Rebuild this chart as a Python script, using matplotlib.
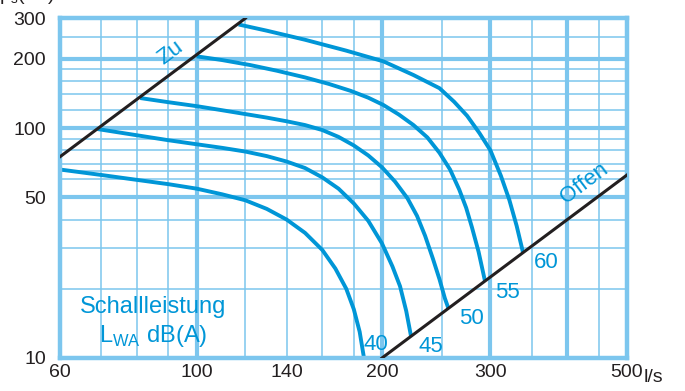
import matplotlib
matplotlib.use("Agg")
import matplotlib.pyplot as plt

plt.rcParams['font.family'] = ['Liberation Sans', 'DejaVu Sans']

# air flow (l/s) and pressure drop (Pa)
q_40 = [60, 70, 80, 90, 100, 110, 120, 130, 140, 150, 160, 168, 175, 180, 184, 187]
dp_40 = [66, 62.5, 59.5, 57, 54.5, 51.5, 48.5, 44.5, 40, 35, 29.5, 24.5, 20, 16.3, 13, 10]
q_45 = [69, 80, 90, 100, 110, 120, 130, 140, 150, 160, 170, 180, 190, 200, 208, 214, 219, 223]
dp_45 = [99, 93, 88.5, 85, 82, 79, 75.5, 71.5, 67, 61, 54.5, 47, 39.5, 31.5, 25, 20.5, 16, 12.4]
q_50 = [81, 90, 100, 110, 120, 130, 140, 150, 160, 170, 180, 190, 200, 210, 220, 228, 235, 242, 248, 253, 256.5]
dp_50 = [135, 129.5, 124.5, 119.5, 115, 111, 107, 103, 98, 91.5, 84, 76, 67.5, 58.5, 49.5, 41.5, 34, 27, 22, 18.2, 16.4]
q_55 = [100, 110, 122, 135, 150, 164, 178, 190, 201, 213, 225, 237, 248, 258, 267, 274, 280, 287, 294]
dp_55 = [205, 197.5, 188, 177.5, 166, 155.5, 145, 135.5, 126, 114.5, 103, 91, 78, 66, 54, 45, 37, 29, 21.6]
q_60 = [117, 130, 150, 175, 201, 225, 248, 262, 275, 288, 300, 312, 322, 331, 339]
dp_60 = [282, 265, 242, 217, 195, 170, 149, 130, 113, 95, 80, 62, 48.7, 37.5, 28.7]
curves = [(q_40, dp_40), (q_45, dp_45), (q_50, dp_50), (q_55, dp_55), (q_60, dp_60)]
levels = ["40", "45", "50", "55", "60"]

zu_q = [60, 120]
zu_dp = [75, 300]
offen_q = [200, 500]
offen_dp = [10, 62.5]

x_ticks = [60, 100, 140, 200, 300, 500]
y_ticks = [10, 50, 100, 200, 300]
x_thick = [100, 200, 300, 400]
x_thin = [70, 80, 90, 120, 140, 160, 180, 250, 350, 450]
y_thick = [50, 100, 200]
y_thin = [20, 30, 40, 60, 65, 70, 80, 90, 120, 140, 160, 180, 250]

grid_col = "#7cc6ee"
blue = "#0096d7"
black = "#231f20"

fig = plt.figure(figsize=(6.85, 3.91), dpi=100)
ax = fig.add_axes([60/685, 1-358/391, 567/685, (358-18.3)/391])
ax.set_xscale("log")
ax.set_yscale("log")
ax.set_xlim(60, 500)
ax.set_ylim(10, 300)

for v in x_thin:
    ax.axvline(v, color=grid_col, lw=1.1, zorder=1)
for v in x_thick:
    ax.axvline(v, color=grid_col, lw=3.0, zorder=1)
for v in y_thin:
    ax.axhline(v, color=grid_col, lw=1.1, zorder=1)
for v in y_thick:
    ax.axhline(v, color=grid_col, lw=3.0, zorder=1)
for s in ax.spines.values():
    s.set_color(grid_col)
    s.set_linewidth(3.2)

ax.plot(zu_q, zu_dp, color=black, lw=2.2, zorder=3)
ax.plot(offen_q, offen_dp, color=black, lw=2.2, zorder=3)
for q, dp in curves:
    ax.plot(q, dp, color=blue, lw=2.8, zorder=2, solid_capstyle="butt", solid_joinstyle="round")

ax.minorticks_off()
ax.set_xticks(x_ticks)
ax.set_xticklabels([str(v) for v in x_ticks])
ax.set_yticks(y_ticks)
ax.set_yticklabels([str(v) for v in y_ticks])
ax.tick_params(length=0, labelsize=14, colors="#231f20", pad=4)
ax.tick_params(axis="y", pad=10)
fig.text(644/685, 1-378/391, "l/s", fontsize=14, color="#231f20", va="center", ha="left")

# labels on the chart
lab_pos = [(376, 344), (431, 346), (471, 318), (507, 293), (546, 263)]
for t, (px, py) in zip(levels, lab_pos):
    fig.text(px/685, 1-py/391, t, fontsize=16, color=blue, ha="center", va="center")
fig.text(170/685, 1-53/391, "Zu", fontsize=16, color=blue, rotation=37, ha="center", va="center")
fig.text(584/685, 1-183/391, "Offen", fontsize=16, color=blue, rotation=37, ha="center", va="center")
fig.text(153/685, 1-307/391, "Schallleistung", fontsize=17, color=blue, ha="center", va="center")
fig.text(153/685, 1-336/391, "L$_{\\mathregular{WA}}$ dB(A)", fontsize=17, color=blue, ha="center", va="center")

fig.text(-0.02, 1.012, "Δp$_{\\mathregular{s}}$(Pa)", fontsize=14, color="#231f20", ha="left", va="center")

fig.savefig("out.png", dpi=100)
